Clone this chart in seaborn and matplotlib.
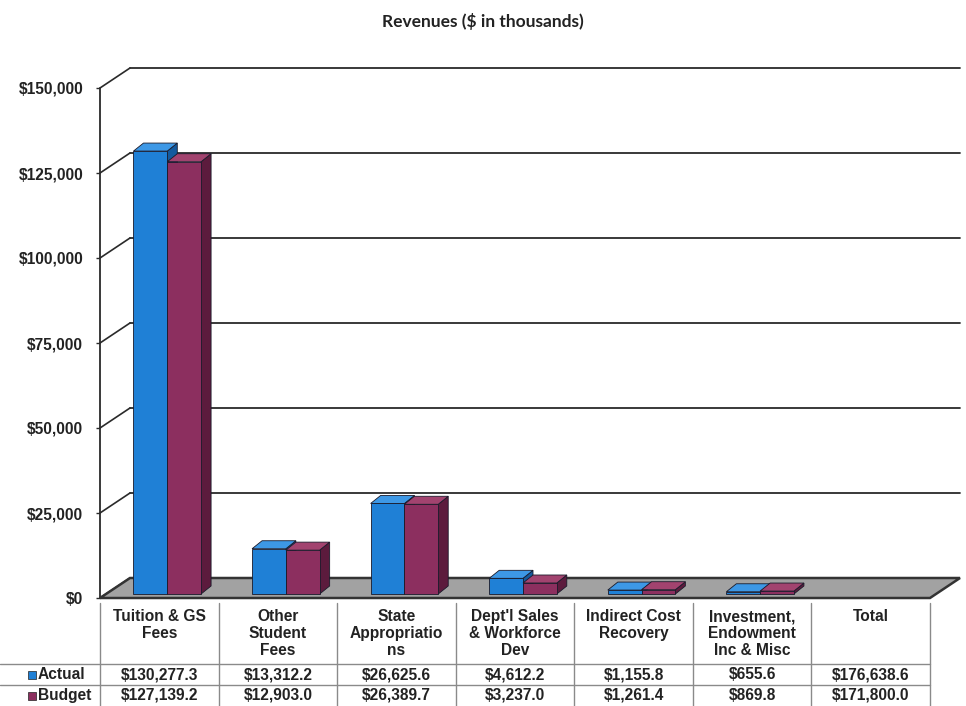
import numpy as np
import pandas as pd
import matplotlib
matplotlib.use("Agg")
import matplotlib.pyplot as plt
import seaborn as sns
from matplotlib.patches import Polygon, Rectangle
from matplotlib.transforms import IdentityTransform, offset_copy
from matplotlib.lines import Line2D

# ---------------- data ----------------
categories = ["Tuition & GS Fees", "Other Student Fees", "State Appropriations",
              "Dept'l Sales & Workforce Dev", "Indirect Cost Recovery",
              "Investment, Endowment Inc & Misc", "Total"]
header_labels = ["Tuition & GS\nFees", "Other\nStudent\nFees", "State\nAppropriatio\nns",
                 "Dept'l Sales\n& Workforce\nDev", "Indirect Cost\nRecovery",
                 "Investment,\nEndowment\nInc & Misc", "Total"]
actual = [130277.3, 13312.2, 26625.6, 4612.2, 1155.8, 655.6, 176638.6]
budget = [127139.2, 12903.0, 26389.7, 3237.0, 1261.4, 869.8, 171800.0]
series = ["Actual", "Budget"]
yticks = [0, 25000, 50000, 75000, 100000, 125000, 150000]
title = "Revenues ($ in thousands)"

# ---------------- style ----------------
BLUE = "#1f80d6"
BLUE_TOP = "#3d98e6"
BLUE_SIDE = "#145a9e"
MAG = "#8c2f5f"
MAG_TOP = "#a2436f"
MAG_SIDE = "#5c1b3d"
EDGE = "#1a1a2a"
GRID = "#2a2a2a"
FS = 11.2

W, H = 966, 706
sns.set_theme(style="white")
plt.rcParams["font.family"] = ["Liberation Sans", "DejaVu Sans"]

fig = plt.figure(figsize=(W / 100, H / 100), dpi=100)
# front plane of the 3D box: x 100..930 px, y 88..598 px (from top)
ax = fig.add_axes([100 / W, (H - 598) / H, (930 - 100) / W, (598 - 88) / H])

plot_cats = categories[:6]  # Total is not drawn as bars in the reference
df = pd.DataFrame({
    "category": plot_cats * 2,
    "value": actual[:6] + budget[:6],
    "series": [series[0]] * 6 + [series[1]] * 6,
})
sns.barplot(data=df, x="category", y="value", hue="series", order=plot_cats,
            hue_order=series, palette=[BLUE, MAG], width=0.57, saturation=1,
            edgecolor=EDGE, linewidth=0.6, ax=ax, legend=False)

ax.set_xlim(-0.5, len(categories) - 0.5)
ax.set_ylim(0, 150000)
ax.set_xticks([])
ax.set_xlabel("")
ax.set_ylabel("")
for s in ax.spines.values():
    s.set_visible(False)
ax.patch.set_visible(False)
ax.set_yticks(yticks)
ax.set_yticklabels([f"${v:,}" for v in yticks])
ax.tick_params(axis="y", left=True, length=3, width=1, color=GRID, pad=9,
               labelsize=FS, labelcolor="#222222")
for lab in ax.get_yticklabels():
    lab.set_fontweight("bold")

ID = IdentityTransform()
WDX, WDY = 30, 20     # wall depth offset (px, display y up)
BDX, BDY = 8, 4       # bar placement offset
DDX, DDY = 10, 8      # bar depth

x_left = ax.transData.transform((-0.5, 0))[0]
x_right = ax.transData.transform((len(categories) - 0.5, 0))[0]
y0 = ax.transData.transform((0, 0))[1]

# back wall gridlines and left wall diagonals
for v in yticks:
    yv = ax.transData.transform((0, v))[1]
    if v > 0:
        ax.add_line(Line2D([x_left + WDX, x_right + WDX], [yv + WDY, yv + WDY],
                           transform=ID, color=GRID, lw=1.3, zorder=1, clip_on=False))
    ax.add_line(Line2D([x_left, x_left + WDX], [yv, yv + WDY], transform=ID,
                       color=GRID, lw=1.2, zorder=1, clip_on=False))
ytop = ax.transData.transform((0, 150000))[1]
ax.add_line(Line2D([x_left, x_left], [y0, ytop], transform=ID, color=GRID,
                   lw=1.3, zorder=1, clip_on=False))

# floor
floor = Polygon([(x_left, y0), (x_right, y0), (x_right + WDX, y0 + WDY),
                 (x_left + WDX, y0 + WDY)], closed=True, transform=ID,
                facecolor="#a2a2a2", edgecolor="#333333", lw=1.8, zorder=1.5,
                clip_on=False)
ax.add_patch(floor)

# 3D bars built on seaborn's patches
bars = [p for p in ax.patches if isinstance(p, Rectangle) and p is not floor]
bars.sort(key=lambda p: p.get_x())
off = offset_copy(ax.transData, fig=fig, x=BDX, y=BDY, units="dots")
for k, p in enumerate(bars):
    fc = matplotlib.colors.to_hex(p.get_facecolor())
    is_blue = fc.lower() == BLUE
    top_c = BLUE_TOP if is_blue else MAG_TOP
    side_c = BLUE_SIDE if is_blue else MAG_SIDE
    x0, w, h = p.get_x(), p.get_width(), p.get_height()
    X0, Y0 = ax.transData.transform((x0, 0))
    X1, Y1 = ax.transData.transform((x0 + w, h))
    X0 += BDX; X1 += BDX; Y0 += BDY; Y1 += BDY
    z = 3 + k * 0.01
    ax.add_patch(Polygon([(X1, Y0), (X1 + DDX, Y0 + DDY), (X1 + DDX, Y1 + DDY), (X1, Y1)],
                         closed=True, transform=ID, facecolor=side_c, edgecolor=EDGE,
                         lw=0.6, zorder=z, clip_on=False))
    ax.add_patch(Polygon([(X0, Y1), (X1, Y1), (X1 + DDX, Y1 + DDY), (X0 + DDX, Y1 + DDY)],
                         closed=True, transform=ID, facecolor=top_c, edgecolor=EDGE,
                         lw=0.6, zorder=z, clip_on=False))
    p.set_transform(off)
    p.set_zorder(z + 0.005)
    p.set_clip_on(False)

# title
fig.text(483 / W, 1 - 22 / H, title, ha="center", va="center",
         fontsize=12.5, fontweight="bold", family=["Lato", "DejaVu Sans"],
         color="#222222")

# ---------------- data table ----------------
def fy(ypx):
    return 1 - ypx / H

edges = [ax.transData.transform((i - 0.5, 0))[0] for i in range(len(categories) + 1)]
T_TOP, R1, R2, T_BOT = 603, 664, 685, 706
LC = "#8a8a8a"
for e in edges:
    fig.add_artist(Line2D([e / W, e / W], [fy(T_TOP), fy(T_BOT)], transform=fig.transFigure,
                          color=LC, lw=1.0))
for yy in (R1, R2):
    fig.add_artist(Line2D([0 / W, edges[-1] / W], [fy(yy), fy(yy)], transform=fig.transFigure,
                          color=LC, lw=1.0))

for i, lab in enumerate(header_labels):
    cx = (edges[i] + edges[i + 1]) / 2
    fig.text(cx / W, fy(609), lab, ha="center", va="top", fontsize=FS,
             fontweight="bold", linespacing=1.15, color="#222222")
    fig.text(cx / W, fy((R1 + R2) / 2), f"${actual[i]:,.1f}", ha="center", va="center",
             fontsize=FS, fontweight="bold", color="#222222")
    fig.text(cx / W, fy((R2 + T_BOT) / 2), f"${budget[i]:,.1f}", ha="center", va="center",
             fontsize=FS, fontweight="bold", color="#222222")

for (name, col, yc) in [(series[0], BLUE, (R1 + R2) / 2), (series[1], MAG, (R2 + T_BOT) / 2)]:
    fig.add_artist(Rectangle((28 / W, fy(yc + 4)), 8 / W, 8 / H, transform=fig.transFigure,
                             facecolor=col, edgecolor="#222222", lw=0.5))
    fig.text(38 / W, fy(yc), name, ha="left", va="center", fontsize=FS,
             fontweight="bold", color="#222222")

fig.savefig("out.png", dpi=100)
